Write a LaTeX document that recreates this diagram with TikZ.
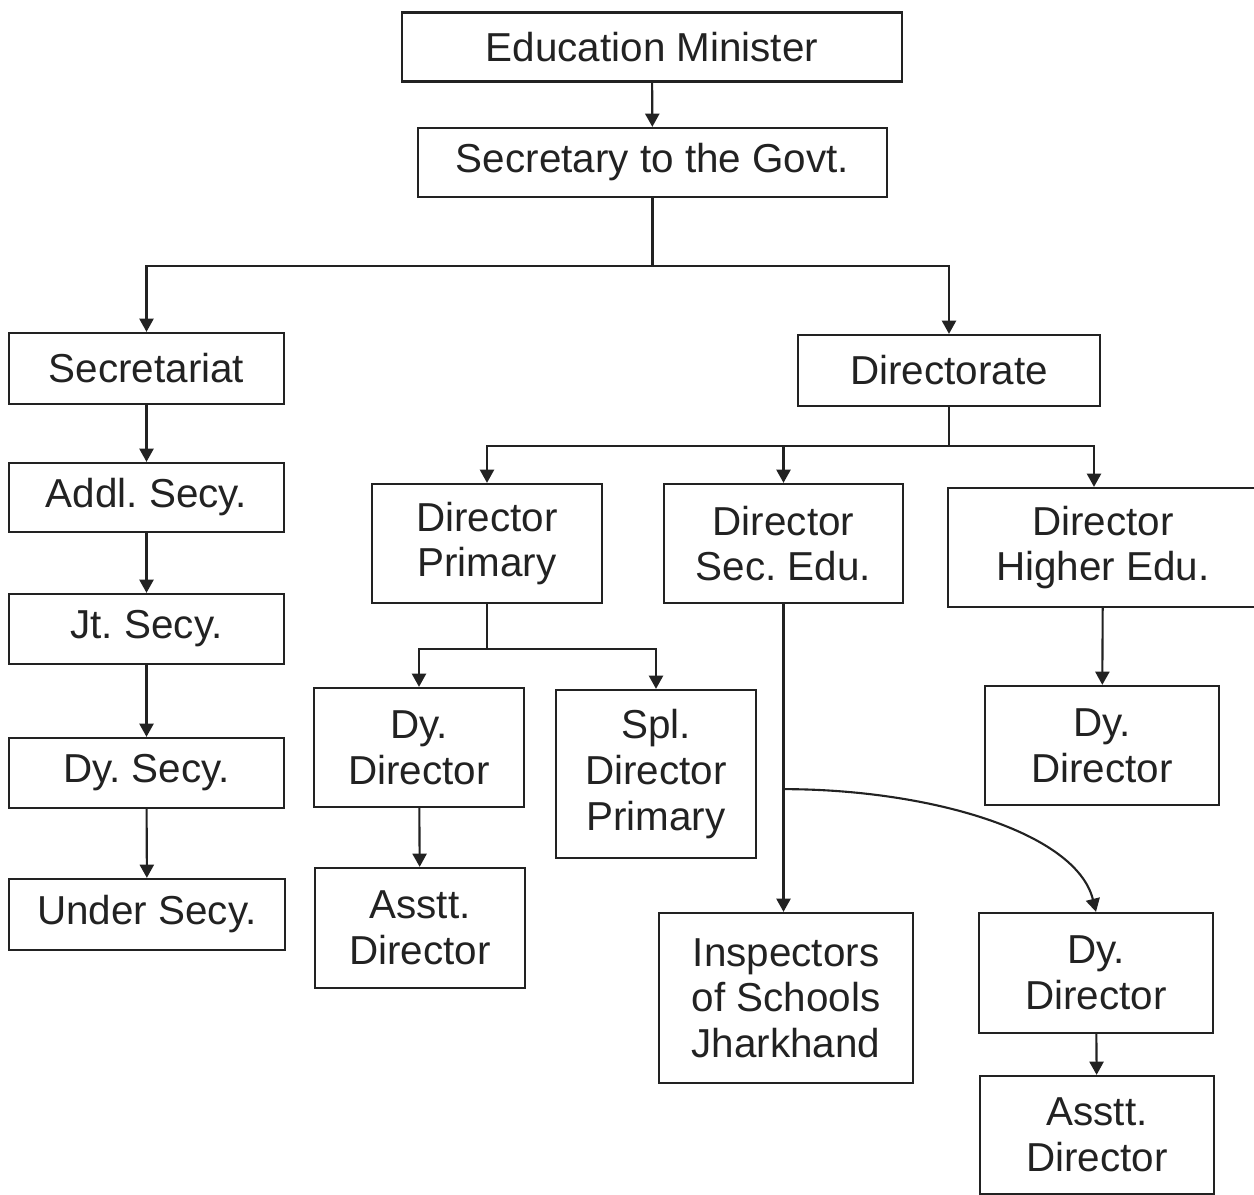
\documentclass[tikz,border=0pt]{standalone}
\usepackage{fontspec}
\setmainfont{Liberation Sans}
\usetikzlibrary{arrows.meta,calc}
\frenchspacing
\definecolor{ink}{HTML}{222222}
\tikzset{
  bx/.style 2 args={draw=ink, line width=1.3pt, rectangle, align=center,
    minimum width=#1*0.02cm, minimum height=#2*0.02cm, inner sep=0pt,
    font=\fontsize{23}{26}\selectfont\frenchspacing, text=ink},
  conn/.style={draw=ink, line width=1.2pt},
  arr/.style={conn, -{Triangle[width=8pt,length=7.5pt]}}
}
\begin{document}
\begin{tikzpicture}[x=0.02cm, y=-0.02cm]
\useasboundingbox (0,0) rectangle (1254,1195);
\clip (0,0) rectangle (1254,1195);
% nodes
\node[bx={500}{69}] (em) at (652,47) {Education Minister};
\node[bx={469}{69}] (sg) at (652.5,162.5) {Secretary to the Govt.};
\node[bx={275}{71}] (secr) at (146.5,368.5) {Secretariat};
\node[bx={302}{71}] (dir) at (949,370.5) {Directorate};
\node[bx={275}{69}] (addl) at (146.5,497.5) {Addl. Secy.};
\node[bx={275}{70}] (jt) at (146.5,629) {Jt. Secy.};
\node[bx={275}{70}] (dys) at (146.5,773) {Dy. Secy.};
\node[bx={276}{71}] (under) at (147,914.5) {Under Secy.};
\node[bx={230}{119}] (dp) at (487,543.5) {Director\\Primary};
\node[bx={239}{119}] (dse) at (783.5,543.5) {Director\\Sec. Edu.};
\node[bx={310}{119}] (dhe) at (1103,547.5) {Director\\Higher Edu.};
\node[bx={210}{119}] (dd1) at (419,747.5) {Dy.\\Director};
\node[bx={200}{168}] (spl) at (656,774) {Spl.\\Director\\Primary};
\node[bx={210}{120}] (ad1) at (420,928) {Asstt.\\Director};
\node[bx={254}{170}] (insp) at (786,998) {Inspectors\\of Schools\\Jharkhand};
\node[bx={234}{120}] (dd2) at (1096,973) {Dy.\\Director};
\node[bx={234}{118}] (ad2) at (1097,1135) {Asstt.\\Director};
\node[bx={234}{119}] (dd3) at (1102,745.5) {Dy.\\Director};
% connectors
\draw[arr] (em) -- (sg);
\draw[conn] (sg.south) -- ++(0,68) coordinate (t1);
\draw[arr] (t1) -| (secr.north);
\draw[arr] (t1) -| (dir.north);
\draw[conn] (dir.south) -- ++(0,39) coordinate (t2);
\draw[arr] (t2) -| (dp.north);
\draw[arr] (t2) -| (dse.north);
\draw[arr] (t2) -| ([xshift=-9*0.02cm]dhe.north);
\draw[arr] (secr) -- (addl);
\draw[arr] (addl) -- (jt);
\draw[arr] (jt) -- (dys);
\draw[arr] (dys) -- (under);
\draw[conn] (dp.south) -- ++(0,45) coordinate (t3);
\draw[arr] (t3) -| (dd1.north);
\draw[arr] (t3) -| (spl.north);
\draw[arr] (dd1) -- (ad1);
\draw[arr] (dse.south) -- (dse.south |- insp.north);
\path (dse.south) ++(0,185) coordinate (j);
\draw[arr] (j) .. controls +(145,0) and +(-20,-80) .. (dd2.north);
\draw[arr] (dd2) -- (ad2);
\draw[arr] (dhe) -- (dd3);
\end{tikzpicture}
\end{document}
